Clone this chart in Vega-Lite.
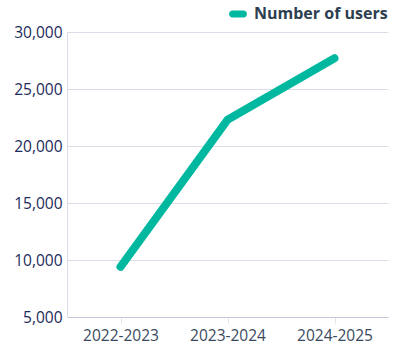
{
  "$schema": "https://vega.github.io/schema/vega-lite/v6.json",
  "autosize": "none",
  "width": 321,
  "height": 285,
  "padding": {"left": 67, "top": 32, "right": 17, "bottom": 36},
  "config": {
    "view": {"stroke": null},
    "font": "Open Sans"
  },
  "data": {
    "values": [
      {"year": "2022-2023", "users": 9400, "series": "Number of users"},
      {"year": "2023-2024", "users": 22300, "series": "Number of users"},
      {"year": "2024-2025", "users": 27700, "series": "Number of users"}
    ]
  },
  "mark": {"type": "line", "strokeWidth": 8, "strokeCap": "round", "strokeJoin": "round"},
  "encoding": {
    "x": {
      "field": "year", "type": "ordinal", "title": null,
      "scale": {"type": "point", "padding": 0.5},
      "axis": {
        "labelAngle": 0, "labelFontSize": 15.5, "labelColor": "#3a4a5e",
        "domainColor": "#c5c8da", "tickColor": "#e2e3ee", "tickSize": 6,
        "labelPadding": 5, "grid": false
      }
    },
    "y": {
      "field": "users", "type": "quantitative", "title": null,
      "scale": {"domain": [5000, 30000], "nice": false, "zero": false},
      "axis": {
        "values": [5000, 10000, 15000, 20000, 25000, 30000],
        "format": ",.0f", "labelFontSize": 15.5, "labelColor": "#1c2b5a",
        "domainColor": "#dcdde9", "ticks": false, "labelPadding": 5,
        "gridColor": "#dcdde9"
      }
    },
    "color": {
      "field": "series", "type": "nominal",
      "scale": {"range": ["#00b8a0"]},
      "legend": {
        "title": null, "orient": "none", "legendX": 162, "legendY": -27,
        "symbolType": "M -0.61 -0.39 L 0.61 -0.39 A 0.39 0.39 0 0 1 0.61 0.39 L -0.61 0.39 A 0.39 0.39 0 0 1 -0.61 -0.39 Z",
        "symbolFillColor": "#00b8a0", "symbolStrokeWidth": 0, "symbolSize": 324,
        "labelFontSize": 16, "labelFontWeight": "bold", "labelColor": "#2d3e50",
        "labelOffset": 7
      }
    }
  }
}
